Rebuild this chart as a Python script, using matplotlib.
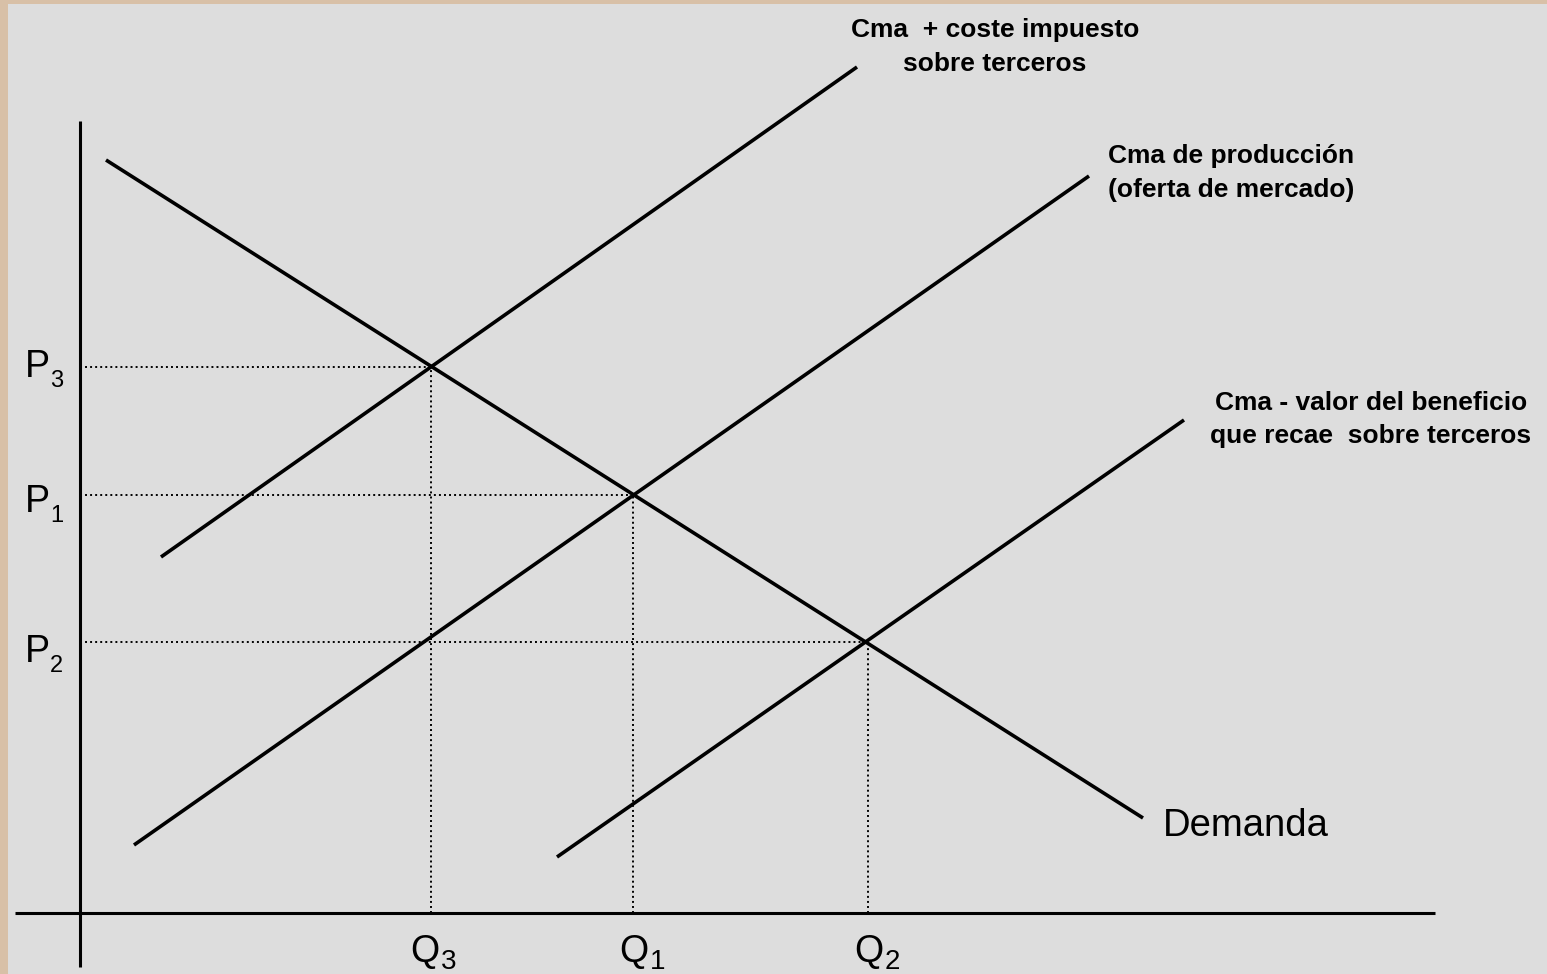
import matplotlib
matplotlib.use("Agg")
import matplotlib.pyplot as plt
from matplotlib.patches import Rectangle

W, H = 1547, 974
DPI = 100

# ---- data (quantity, price) in chart units; origin at the axes crossing ----
demand_q = [26, 1063]
demand_p = [753, 95]
supply_q = [54, 1009]            # Cma de producción (oferta de mercado)
supply_p = [68, 737]
cost_plus_q = [81, 777]          # Cma + coste impuesto sobre terceros
cost_plus_p = [356, 846]
benefit_minus_q = [477, 1104]    # Cma - valor del beneficio ...
benefit_minus_p = [56, 493]

eq_q = [351, 553, 788]           # Q3, Q1, Q2
eq_p = [546, 418, 271]           # P3, P1, P2
q_names = ["3", "1", "2"]
p_names = ["3", "1", "2"]

label_plus = ["Cma  + coste impuesto", "sobre terceros"]
label_supply = ["Cma de producción", "(oferta de mercado)"]
label_minus = ["Cma - valor del beneficio", "que recae  sobre terceros"]
label_demand = "Demanda"

FONT = "Liberation Sans"

fig = plt.figure(figsize=(W / DPI, H / DPI), dpi=DPI, facecolor="#D8C0A7")
ax = fig.add_axes([8 / W, 0, (W - 8) / W, (H - 4) / H])
ax.set_facecolor("#DDDDDD")
ax.set_xlim(8 - 80, W - 80)
ax.set_ylim(913 - H, 913 - 4)
ax.set_axis_off()
ax.add_patch(Rectangle((0, 0), 1, 1, transform=ax.transAxes,
                       facecolor="#DDDDDD", edgecolor="none", zorder=0))

# axes lines
ax.plot([0, 0], [-54, 792], color="black", lw=2.2, solid_capstyle="butt", zorder=3)
ax.plot([-65, 1355], [0, 0], color="black", lw=2.2, solid_capstyle="butt", zorder=3)

# curves
for q, p in [(demand_q, demand_p), (supply_q, supply_p),
             (cost_plus_q, cost_plus_p), (benefit_minus_q, benefit_minus_p)]:
    ax.plot(q, p, color="black", lw=2.6, solid_capstyle="butt", zorder=4)

# dotted guides
dot = (0, (1, 1.6))
for q, p in zip(eq_q, eq_p):
    ax.plot([0, q], [p, p], color="black", lw=1.4, linestyle=dot, zorder=2)
    ax.plot([q, q], [0, p], color="black", lw=1.4, linestyle=dot, zorder=2)

# P labels (baseline drop below the guide differs per label, as in the reference)
p_drop = [10, 17, 20]
for p, n, d in zip(eq_p, p_names, p_drop):
    ax.text(-55, p - d, "P", fontsize=27, family=FONT, ha="left", va="baseline")
    ax.text(-30, p - d - 10, n, fontsize=17, family=FONT, ha="left", va="baseline")

# Q labels
q_shift = [-21, -14, -14]
for q, n, s in zip(eq_q, q_names, q_shift):
    ax.text(q + s, 913 - 962, "Q", fontsize=27, family=FONT, ha="left", va="baseline")
    ax.text(q + s + 31, 913 - 969, n, fontsize=20, family=FONT, ha="left", va="baseline")

# curve labels (each line centred, bold)
def two_lines(lines, xc, base1, base2):
    for txt, b in zip(lines, (base1, base2)):
        ax.text(xc, 913 - b, txt, fontsize=19, fontweight="bold", family=FONT,
                ha="center", va="baseline")

two_lines(label_plus, 995 - 80, 37, 71)
two_lines(label_supply, 1231 - 80, 163, 197)
two_lines(label_minus, 1371 - 80, 410, 443)

ax.text(1083, 913 - 836, label_demand, fontsize=27.5, family=FONT,
        ha="left", va="baseline")

fig.savefig("out.png", dpi=DPI, facecolor=fig.get_facecolor())
